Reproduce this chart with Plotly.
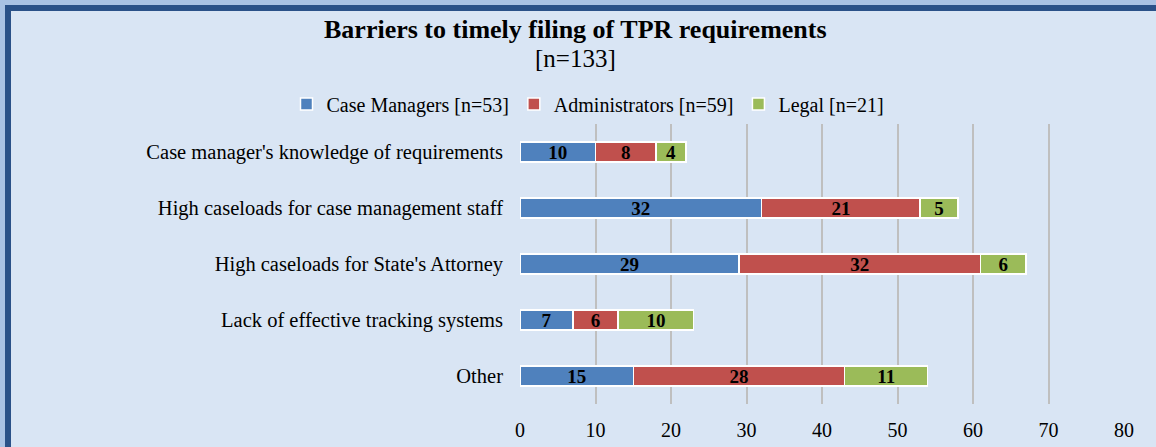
import plotly.graph_objects as go

categories = [
    "Case manager's knowledge of requirements",
    "High caseloads for case management staff",
    "High caseloads for State's Attorney",
    "Lack of effective tracking systems",
    "Other",
]
case_managers = [10, 32, 29, 7, 15]
administrators = [8, 21, 32, 6, 28]
legal = [4, 5, 6, 10, 11]
series_names = ["Case Managers [n=53]", "Administrators [n=59]", "Legal [n=21]"]
series_colors = ["#4f81bd", "#c0504d", "#9bbb59"]
x_ticks = [0, 10, 20, 30, 40, 50, 60, 70, 80]

FONT = "Liberation Serif"
W, H = 1156, 447
L, R, T, B = 520, 32, 124, 43
PW, PH = W - L - R, H - T - B


def px(x):
    return (x - L) / PW


def py(y):
    return (H - B - y) / PH


fig = go.Figure()
for name, vals, col in zip(series_names, [case_managers, administrators, legal], series_colors):
    fig.add_trace(go.Bar(
        y=categories, x=vals, name=name, orientation="h",
        marker=dict(color=col, line=dict(color="white", width=1.5)),
        text=vals, texttemplate="<b>%{text}</b>",
        textposition="inside", insidetextanchor="middle", textangle=0,
        constraintext="none",
        textfont=dict(family=FONT, size=19, color="black"),
    ))

shapes = [
    dict(type="rect", xref="paper", yref="paper", layer="below",
         x0=px(8), x1=px(1300), y0=py(8), y1=py(600),
         fillcolor="#d9e5f4", line=dict(color="#2a5188", width=6)),
]

annotations = [
    dict(text="<b>Barriers to timely filing of TPR requirements</b>", xref="paper", yref="paper",
         x=px(575), y=py(29), xanchor="center", yanchor="middle", showarrow=False,
         font=dict(family=FONT, size=26, color="black")),
    dict(text="[n=133]", xref="paper", yref="paper",
         x=px(575), y=py(59), xanchor="center", yanchor="middle", showarrow=False,
         font=dict(family=FONT, size=25, color="black")),
]

fig.update_layout(
    width=W, height=H,
    margin=dict(l=L, r=R, t=T, b=B, pad=0, autoexpand=False),
    paper_bgcolor="#a9c2e4", plot_bgcolor="rgba(0,0,0,0)",
    barmode="stack", bargap=0.64,
    font=dict(family=FONT, size=20, color="black"),
    shapes=shapes, annotations=annotations,
    legend=dict(orientation="h", x=px(588), y=py(104), xanchor="center", yanchor="middle",
                font=dict(family=FONT, size=20, color="black"), bgcolor="rgba(0,0,0,0)",
                traceorder="normal"),
    xaxis=dict(range=[0, 80], tickvals=x_ticks, showgrid=True, gridcolor="#bfbfbf", gridwidth=2,
               zeroline=False, showline=False, ticks="", ticklabelstandoff=12, automargin=False,
               tickfont=dict(family=FONT, size=20, color="black")),
    yaxis=dict(autorange="reversed", showgrid=False, zeroline=False, showline=False,
               ticks="", ticklabelstandoff=16, automargin=False,
               tickfont=dict(family=FONT, size=20.5, color="black")),
)

fig.write_html("out.html", post_script="document.body.style.margin='0';",
               config={"displayModeBar": False})
